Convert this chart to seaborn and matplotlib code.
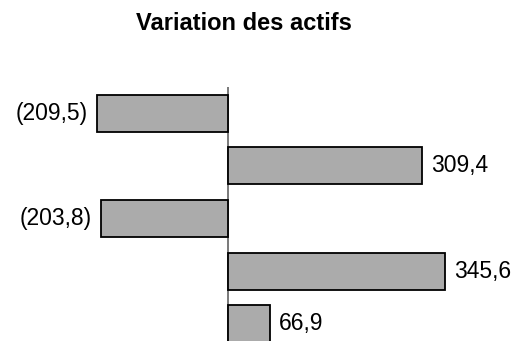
import matplotlib
matplotlib.use("Agg")
import matplotlib.pyplot as plt
import seaborn as sns
import pandas as pd

categories = ["A", "B", "C", "D", "E"]
values = [-209.5, 309.4, -203.8, 345.6, 66.9]
title = "Variation des actifs"

sns.set_theme(style="white")
plt.rcParams['font.family'] = ['Liberation Sans', 'DejaVu Sans']

df = pd.DataFrame({"cat": categories, "val": values})

W, H = 511, 341
fig = plt.figure(figsize=(W / 100, H / 100), dpi=100)
top_px, bot_px = 87, 350
ax = fig.add_axes([0, 1 - bot_px / H, 1, (bot_px - top_px) / H])

sns.barplot(data=df, x="val", y="cat", orient="h", ax=ax, color="#ababab",
            saturation=1, width=0.7, edgecolor="black", linewidth=1.3)

ax.set_xlim(-364.7, 451.6)
ax.set_ylim(len(categories) - 0.5, -0.5)
ax.axvline(0, color="#555555", linewidth=1.1, zorder=0)
for s in ax.spines.values():
    s.set_visible(False)
ax.set_xticks([])
ax.set_yticks([])
ax.set_xlabel("")
ax.set_ylabel("")

def fmt(v):
    s = f"{abs(v):.1f}".replace(".", ",")
    return f"({s})" if v < 0 else s

px = 0.626  # px per unit approx (for offset)
for i, v in enumerate(values):
    off = 9 / px
    if v < 0:
        ax.text(v - off, i, fmt(v), ha="right", va="center", fontsize=16.5, color="black")
    else:
        ax.text(v + off, i, fmt(v), ha="left", va="center", fontsize=16.5, color="black")

fig.text(244 / W, 1 - 23 / H, title, ha="center", va="center",
         fontsize=17, fontweight="bold", color="black")

fig.savefig("out.png", dpi=100)
